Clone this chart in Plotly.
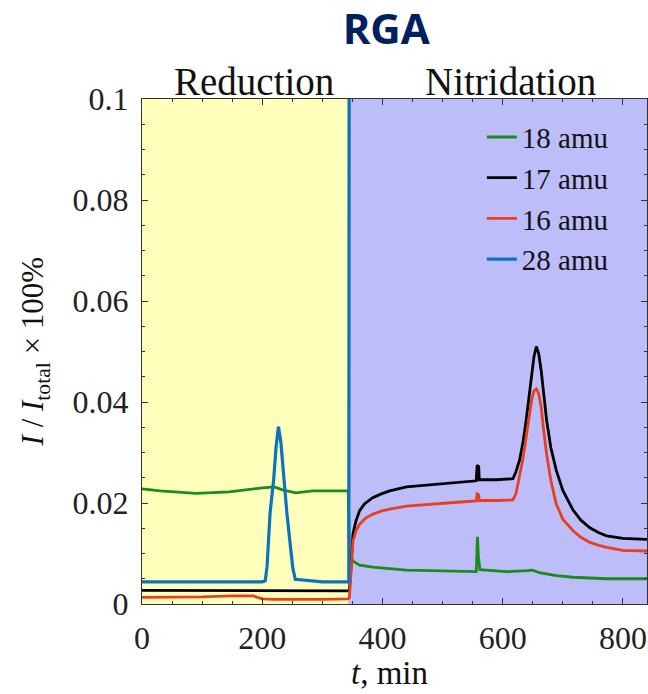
import plotly.graph_objects as go

# ---------------- data ----------------
t18 = [0, 30, 90, 145, 200, 220, 234, 256, 284, 343, 345, 351, 362, 384, 440, 495,
       556, 558, 559.5, 562, 606, 640, 650, 661, 689, 717, 773, 840]
v18 = [0.0228, 0.0224, 0.0219, 0.0222, 0.0230, 0.0232, 0.0226, 0.0220, 0.0224, 0.0224,
       0.0099, 0.0085, 0.0077, 0.0073, 0.0067, 0.0065, 0.0064, 0.0133, 0.0095, 0.0068,
       0.0064, 0.0066, 0.0067, 0.0062, 0.0056, 0.0053, 0.0050, 0.0050]

t17 = [0, 100, 200, 250, 343, 345, 347, 351, 356, 362, 370, 383, 398, 412, 440, 470,
       495, 530, 556, 557.5, 560, 561, 590, 617, 622, 628, 634, 639, 644, 648, 652,
       656, 660, 664, 668, 673, 680, 689, 700, 717, 730, 745, 760, 773, 800, 840]
v17 = [0.0027, 0.0027, 0.0027, 0.0026, 0.0026, 0.0026, 0.0060, 0.0139, 0.0165, 0.0185,
       0.0198, 0.0210, 0.0218, 0.0224, 0.0232, 0.0235, 0.0238, 0.0241, 0.0244, 0.0275,
       0.0272, 0.0246, 0.0246, 0.0248, 0.0262, 0.0285, 0.0322, 0.0364, 0.0410, 0.0450,
       0.0490, 0.0510, 0.0495, 0.0462, 0.0420, 0.0364, 0.0310, 0.0265, 0.0225, 0.0186,
       0.0166, 0.0151, 0.0141, 0.0135, 0.0130, 0.0128]

t16 = [0, 100, 150, 185, 200, 220, 300, 343, 345, 347, 351, 356, 362, 372, 384, 398,
       412, 440, 470, 495, 530, 556, 557.5, 560, 561, 590, 617, 622, 628, 634, 639,
       644, 648, 652, 656, 660, 664, 668, 673, 680, 689, 700, 717, 730, 745, 760, 773,
       800, 840]
v16 = [0.0013, 0.0014, 0.0016, 0.0016, 0.0010, 0.0009, 0.0009, 0.0010, 0.0013, 0.0050,
       0.0125, 0.0145, 0.0158, 0.0170, 0.0178, 0.0184, 0.0188, 0.0194, 0.0197, 0.0199,
       0.0202, 0.0204, 0.0218, 0.0216, 0.0205, 0.0205, 0.0206, 0.0218, 0.0251, 0.0290,
       0.0330, 0.0370, 0.0403, 0.0422, 0.0426, 0.0416, 0.0390, 0.0345, 0.0297, 0.0245,
       0.0198, 0.0168, 0.0145, 0.0132, 0.0122, 0.0116, 0.0112, 0.0106, 0.0105]

t28 = [0, 100, 200, 205, 208, 213, 219, 223, 227, 231, 235.5, 241, 247, 251, 255,
       300, 344, 345, 840]
v28 = [0.0044, 0.0044, 0.0044, 0.0046, 0.0074, 0.0180, 0.0246, 0.0311, 0.0351, 0.0320,
       0.0252, 0.0180, 0.0113, 0.0070, 0.0049, 0.0044, 0.0044, 0.2, 0.2]

series_names = ["18 amu", "17 amu", "16 amu", "28 amu"]
series_t = [t18, t17, t16, t28]
series_v = [v18, v17, v16, v28]
series_colors = ["#1b8c1b", "#000000", "#e8401e", "#0a72be"]

phase_labels = ["Reduction", "Nitridation"]
phase_bounds = [0, 343, 840]
phase_label_x = [187, 613]
phase_colors = ["#ffffbb", "#bdbdf9"]

x_ticks = [0, 200, 400, 600, 800]
y_ticks = [0, 0.02, 0.04, 0.06, 0.08, 0.1]
y_tick_text = ["0", "0.02", "0.04", "0.06", "0.08", "0.1"]

# ---------------- figure ----------------
serif = "Liberation Serif"
fig = go.Figure()

for name, t, v, c in zip(series_names, series_t, series_v, series_colors):
    fig.add_trace(go.Scatter(x=t, y=v, mode="lines", name=name,
                             line=dict(color=c, width=3.2 if name == "28 amu" else 2.8)))

for i in range(2):
    fig.add_shape(type="rect", xref="x", yref="paper",
                  x0=phase_bounds[i], x1=phase_bounds[i + 1], y0=0, y1=1,
                  fillcolor=phase_colors[i], line=dict(width=0), layer="below")
    fig.add_annotation(x=phase_label_x[i], xref="x", y=1, yref="paper",
                       yanchor="bottom", yshift=-6, text=phase_labels[i], showarrow=False,
                       font=dict(family=serif, size=39, color="#111"))

axis_common = dict(showline=True, linecolor="#333", linewidth=1.3, mirror="allticks",
                   ticks="inside", ticklen=6, tickcolor="#333", showgrid=False,
                   zeroline=False, tickfont=dict(family=serif, size=32, color="#222"))

fig.update_xaxes(range=[0, 840], tickvals=x_ticks,
                 ticktext=[str(v) for v in x_ticks], ticklabelstandoff=5,
                 minor=dict(tick0=0, dtick=50, ticks="inside", ticklen=3,
                            tickcolor="#333", showgrid=False),
                 **axis_common)
fig.update_yaxes(range=[0, 0.1], tickvals=y_ticks, ticktext=y_tick_text,
                 ticklabelstandoff=6,
                 minor=dict(tick0=0, dtick=0.005, ticks="inside", ticklen=3,
                            tickcolor="#333", showgrid=False),
                 **axis_common)

# axis titles
fig.add_annotation(x=0.491, y=-0.176, xref="paper", yref="paper", showarrow=False,
                   text="<i>t</i>, min", yanchor="bottom",
                   font=dict(family=serif, size=33, color="#111"))
fig.add_annotation(x=-0.212, y=0.50, xref="paper", yref="paper", showarrow=False,
                   xanchor="center", yanchor="middle",
                   text="<i>I</i> / <i>I</i><sub>total</sub> × 100%", textangle=-90,
                   font=dict(family=serif, size=31, color="#111"))

fig.update_layout(
    width=648, height=694,
    margin=dict(l=142, r=1, t=99, b=90, autoexpand=False),
    paper_bgcolor="white", plot_bgcolor="white",
    title=dict(text="<b>RGA</b>", x=0.596, xanchor="center", y=0.958, yanchor="middle",
               font=dict(family="Open Sans", size=42, color="#002060")),
    legend=dict(x=0.673, y=0.975, xanchor="left", yanchor="top",
                bgcolor="rgba(0,0,0,0)", borderwidth=0,
                font=dict(family=serif, size=29, color="#111"), tracegroupgap=0),
    showlegend=True,
)

fig.write_html("out.html", config={"displayModeBar": False},
               post_script="document.body.style.margin='0';"
                           "document.body.style.overflow='hidden';")
